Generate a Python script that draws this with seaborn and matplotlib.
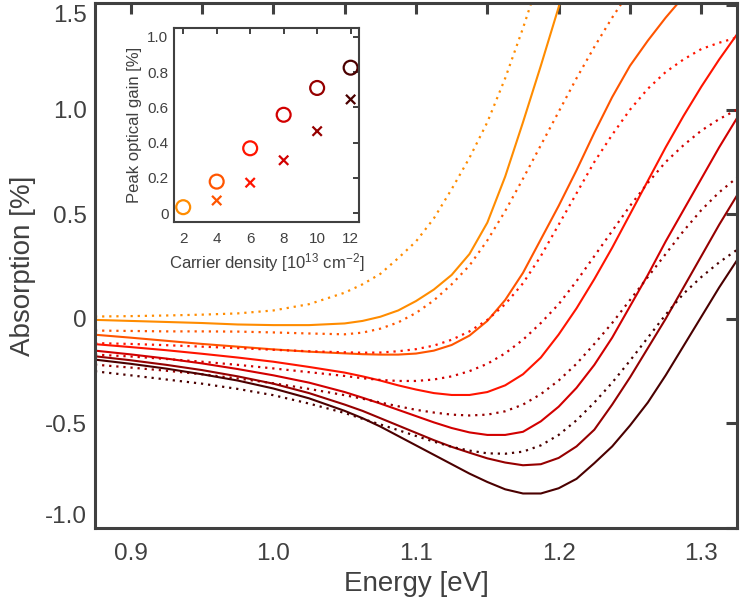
import numpy as np
import pandas as pd
import matplotlib
matplotlib.use("Agg")
import matplotlib.pyplot as plt
import seaborn as sns

sns.set_style("white")
plt.rcParams["font.family"] = ["Liberation Sans", "DejaVu Sans"]
plt.rcParams["mathtext.fontset"] = "custom"
plt.rcParams["mathtext.rm"] = "Liberation Sans"
plt.rcParams["mathtext.it"] = "Liberation Sans:italic"

# ---------------- data ----------------
energy = [0.875, 0.90, 0.925, 0.95, 0.975, 1.00, 1.025,
          1.05, 1.0625, 1.075, 1.0875, 1.10, 1.1125, 1.125, 1.1375, 1.15, 1.1625,
          1.175, 1.1875, 1.20, 1.2125, 1.225, 1.2375, 1.25, 1.2625, 1.275, 1.2875,
          1.30, 1.3125, 1.325]

densities = [2, 4, 6, 8, 10, 12]
colors = ["#FF8C00", "#FF5500", "#FF1400", "#D20000", "#960000", "#4B0000"]

nan = np.nan
solid_n2 = [-0.005, -0.01, -0.015, -0.02, -0.027, -0.03, -0.03,
            -0.022, -0.01, 0.01, 0.04, 0.085, 0.14, 0.21, 0.31, 0.46, 0.68,
            0.94, 1.21, 1.49, 1.78, nan, nan, nan, nan, nan, nan, nan, nan, nan]
solid_n4 = [-0.076, -0.09, -0.105, -0.12, -0.133, -0.146, -0.157,
            -0.165, -0.169, -0.171, -0.171, -0.166, -0.152, -0.125, -0.08, -0.01, 0.09,
            0.22, 0.38, 0.54, 0.71, 0.89, 1.06, 1.21, 1.33, 1.44, 1.54, nan, nan, nan]
solid_n6 = [-0.121, -0.135, -0.15, -0.167, -0.185, -0.205, -0.23,
            -0.257, -0.275, -0.295, -0.318, -0.338, -0.355, -0.364, -0.364, -0.35, -0.318,
            -0.265, -0.185, -0.075, 0.05, 0.19, 0.34, 0.50, 0.66, 0.82, 0.97,
            1.11, 1.24, 1.36]
solid_n8 = [-0.152, -0.17, -0.19, -0.213, -0.24, -0.27, -0.305,
            -0.35, -0.377, -0.405, -0.435, -0.465, -0.495, -0.522, -0.543, -0.555, -0.555,
            -0.54, -0.49, -0.42, -0.33, -0.22, -0.09, 0.06, 0.21, 0.37, 0.52,
            0.67, 0.82, 0.96]
solid_n10 = [-0.179, -0.198, -0.22, -0.245, -0.275, -0.31, -0.355,
             -0.41, -0.44, -0.475, -0.51, -0.545, -0.58, -0.612, -0.64, -0.667, -0.687,
             -0.70, -0.695, -0.665, -0.61, -0.53, -0.41, -0.28, -0.14, 0.0, 0.15,
             0.30, 0.45, 0.59]
solid_n12 = [-0.195, -0.215, -0.238, -0.265, -0.295, -0.333, -0.38,
             -0.44, -0.475, -0.515, -0.56, -0.605, -0.65, -0.695, -0.74, -0.78, -0.815,
             -0.835, -0.835, -0.81, -0.765, -0.69, -0.61, -0.51, -0.40, -0.27, -0.13,
             0.01, 0.15, 0.28]

dotted_n2 = [0.011, 0.013, 0.016, 0.02, 0.026, 0.04, 0.07,
             0.125, 0.165, 0.215, 0.29, 0.37, 0.48, 0.62, 0.77, 0.94, 1.15,
             1.39, 1.65, nan, nan, nan, nan, nan, nan, nan, nan, nan, nan, nan]
dotted_n4 = [-0.056, -0.058, -0.06, -0.06, -0.061, -0.065, -0.07,
             -0.074, -0.066, -0.047, -0.017, 0.028, 0.088, 0.165, 0.255, 0.375, 0.515,
             0.67, 0.83, 0.99, 1.15, 1.30, 1.44, 1.57, nan, nan, nan, nan, nan, nan]
dotted_n6 = [-0.116, -0.12, -0.126, -0.133, -0.14, -0.148, -0.155,
             -0.16, -0.162, -0.161, -0.155, -0.145, -0.128, -0.10, -0.06, -0.005, 0.07,
             0.17, 0.30, 0.45, 0.60, 0.75, 0.88, 1.0, 1.10, 1.18, 1.24,
             1.29, 1.32, 1.345]
dotted_n8 = [-0.171, -0.18, -0.192, -0.205, -0.22, -0.237, -0.255,
             -0.273, -0.284, -0.292, -0.297, -0.297, -0.29, -0.275, -0.25, -0.215, -0.165,
             -0.10, -0.02, 0.07, 0.18, 0.30, 0.42, 0.54, 0.65, 0.75, 0.83,
             0.90, 0.955, 1.0]
dotted_n10 = [-0.219, -0.233, -0.248, -0.265, -0.285, -0.308, -0.335,
              -0.365, -0.382, -0.40, -0.418, -0.435, -0.448, -0.458, -0.462, -0.458, -0.442,
              -0.41, -0.36, -0.295, -0.215, -0.12, -0.02, 0.09, 0.20, 0.31, 0.42,
              0.52, 0.605, 0.675]
dotted_n12 = [-0.251, -0.27, -0.29, -0.31, -0.335, -0.365, -0.405,
              -0.45, -0.478, -0.505, -0.532, -0.56, -0.587, -0.612, -0.63, -0.643, -0.645,
              -0.635, -0.605, -0.555, -0.485, -0.40, -0.305, -0.20, -0.09, 0.02, 0.12,
              0.20, 0.27, 0.33]

solid_curves = [solid_n2, solid_n4, solid_n6, solid_n8, solid_n10, solid_n12]
dotted_curves = [dotted_n2, dotted_n4, dotted_n6, dotted_n8, dotted_n10, dotted_n12]

# inset data
inset_density = [2, 4, 6, 8, 10, 12]
gain_circles = [0.034, 0.179, 0.368, 0.558, 0.71, 0.825]
cross_density = [4, 6, 8, 10, 12]
gain_crosses = [0.072, 0.173, 0.30, 0.465, 0.645]

y_ticks = [-1.0, -0.5, 0.0, 0.5, 1.0, 1.5]
y_ticklabels = ["-1.0", "-0.5", "0", "0.5", "1.0", "1.5"]
x_ticks = [0.9, 1.0, 1.1, 1.2, 1.3]
x_ticklabels = ["0.9", "1.0", "1.1", "1.2", "1.3"]
x_minor_ticks = [0.95, 1.05, 1.15, 1.25]
inset_yticks = [0, 0.2, 0.4, 0.6, 0.8, 1.0]
inset_yticklabels = ["0", "0.2", "0.4", "0.6", "0.8", "1.0"]
inset_xticks = [2, 4, 6, 8, 10, 12]

# ---------------- figure ----------------
text_col = "#404040"
fig = plt.figure(figsize=(7.4, 6.05), dpi=100)
ax = fig.add_axes([95 / 740, 77 / 605, 642 / 740, 525 / 605])

for n, c, ys, yd in zip(densities, colors, solid_curves, dotted_curves):
    d = pd.DataFrame({"E": energy, "A": ys}).dropna()
    sns.lineplot(data=d, x="E", y="A", color=c, lw=1.5, ax=ax, sort=False)
    d2 = pd.DataFrame({"E": energy, "A": yd}).dropna()
    sns.lineplot(data=d2, x="E", y="A", color=c, lw=1.6, linestyle=(0, (1, 2.2)),
                 ax=ax, sort=False)

ax.set_xlim(0.875, 1.325)
ax.set_ylim(-1.0, 1.51)
ax.set_xticks(x_ticks)
ax.set_xticklabels(x_ticklabels)
ax.set_xticks(x_minor_ticks, minor=True)
ax.set_yticks(y_ticks)
ax.set_yticklabels(y_ticklabels)
ax.set_xlabel("Energy [eV]", fontsize=20, color=text_col, labelpad=4)
ax.set_ylabel("Absorption [%]", fontsize=20, color=text_col, labelpad=6)
ax.tick_params(axis="both", which="both", direction="in", length=8, width=2.2,
               colors=text_col, labelsize=17.5, top=True, right=True)
ax.tick_params(axis="x", which="both", pad=11)
ax.tick_params(axis="y", pad=6)
for sp in ax.spines.values():
    sp.set_color(text_col)
    sp.set_linewidth(2.2)
for lbl in ax.get_yticklabels():
    if lbl.get_text() == "1.5":
        lbl.set_va("top")
    if lbl.get_text() == "-1.0":
        lbl.set_va("bottom")

# ---------------- inset ----------------
ax2 = fig.add_axes([174 / 740, (605 - 222) / 605, 185 / 740, 194 / 605])
ax2.set_facecolor("white")
sns.scatterplot(x=inset_density, y=gain_circles, hue=inset_density, palette=colors,
                marker="o", s=100, linewidth=1.6, legend=False, ax=ax2)
circ = ax2.collections[-1]
circ.set_edgecolors(colors)
circ.set_facecolors("none")
sns.scatterplot(x=cross_density, y=gain_crosses, hue=cross_density, palette=colors[1:],
                marker="x", s=45, linewidth=1.6, legend=False, ax=ax2)
crs = ax2.collections[-1]
crs.set_edgecolors(colors[1:])
crs.set_facecolors(colors[1:])

ax2.set_xlim(1.45, 12.5)
ax2.set_ylim(-0.05, 1.05)
ax2.set_xticks(inset_xticks)
ax2.set_yticks(inset_yticks)
ax2.set_yticklabels(inset_yticklabels)
ax2.set_xlabel(r"Carrier density [10$^{13}$ cm$^{-2}$]", fontsize=12, color=text_col, labelpad=4)
ax2.set_ylabel("Peak optical gain [%]", fontsize=12, color=text_col, labelpad=4)
ax2.tick_params(axis="both", direction="in", length=4, width=1.4, colors=text_col,
                labelsize=11, top=True, right=True, pad=4)
ax2.tick_params(axis="x", pad=7)
for sp in ax2.spines.values():
    sp.set_color(text_col)
    sp.set_linewidth(1.5)

fig.savefig("out.png", dpi=100)
